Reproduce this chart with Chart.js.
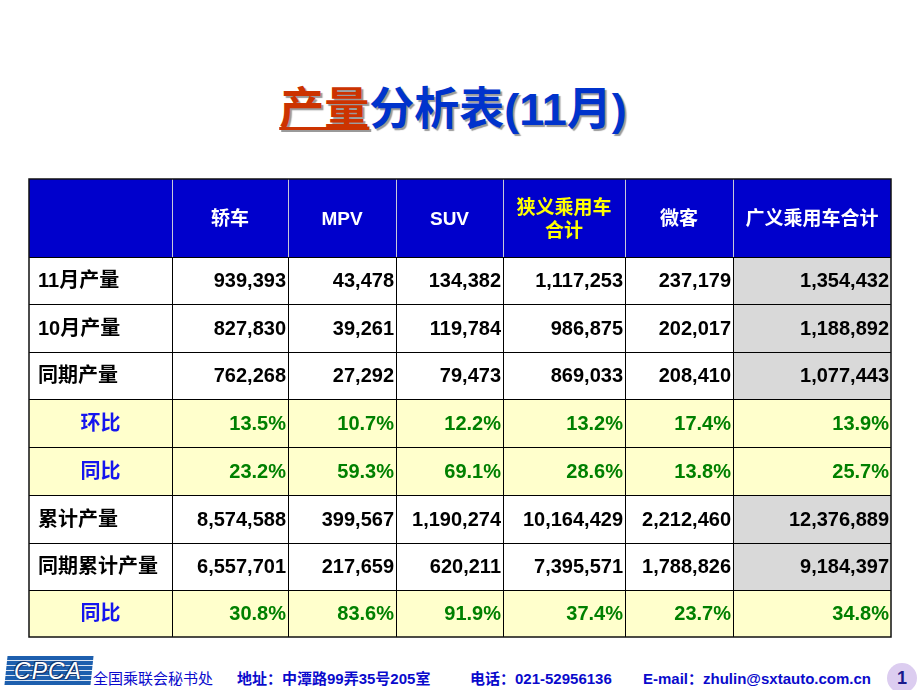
<!DOCTYPE html>
<html>
<head>
<meta charset="utf-8">
<script src="https://cdn.jsdelivr.net/npm/chart.js@4.4.1/dist/chart.umd.min.js"></script>
<style>
  body { margin: 0; width: 920px; height: 690px; background: #fff; position: relative; overflow: hidden;
         font-family: "Liberation Sans", Arial, "Noto Sans CJK SC", sans-serif; }
  #title { position: absolute; left: 0; width: 906px; top: 80px; text-align: center; font-size: 45px;
           font-weight: bold; color: #0033CC; text-shadow: 2px 2px 1px #9a9a9a; line-height: 60px; }
  #title .hl { color: #CC3300; text-decoration: underline; text-decoration-thickness: 3px; text-underline-offset: 2px; }
  #box { position: absolute; left: 28px; top: 178px; width: 865px; height: 461px; }
  .foot { position: absolute; top: 668px; font-size: 15px; color: #0a0acc; line-height: 22px; white-space: nowrap; }
  .b { font-weight: bold; }
  #logo { position: absolute; left: 6px; top: 656px; width: 86px; height: 29px; transform: skewX(-6deg);
          background: repeating-linear-gradient(to bottom, #1d5fae 0 4px, #dfe8f4 4px 5px); }
  #logotxt { position: absolute; left: 6px; top: 656px; width: 84px; text-align: center; font-size: 23px;
             font-style: italic; color: #fff; line-height: 30px; letter-spacing: 1px;
             text-shadow: 0 0 2px #13356e, 1px 1px 0 #13356e, -1px -1px 0 #13356e; }
  #page { position: absolute; left: 887px; top: 663px; width: 30px; height: 30px; border-radius: 50%;
          background: #dccdf0; text-align: center; line-height: 30px; font-weight: bold; font-size: 18px; color: #1a1a8c; }
</style>
</head>
<body>
<div id="title"><span class="hl">产量</span>分析表(11月)</div>
<div id="box"><canvas id="table" width="865" height="461"></canvas></div>

<div id="logo"></div>
<div id="logotxt">CPCA</div>
<div class="foot" style="left:93px">全国乘联会秘书处</div>
<div class="foot b" style="left:237px">地址：中潭路99弄35号205室</div>
<div class="foot b" style="left:470px">电话：021-52956136</div>
<div class="foot b" style="left:643px">E-mail：zhulin@sxtauto.com.cn</div>
<div id="page">1</div>

<script>
// --- Data ---
const columns = ["", "轿车", "MPV", "SUV", "狭义乘用车\n合计", "微客", "广义乘用车合计"];
const rowLabels = ["11月产量", "10月产量", "同期产量", "环比", "同比", "累计产量", "同期累计产量", "同比"];

const novOutput     = [939393, 43478, 134382, 1117253, 237179, 1354432];
const octOutput     = [827830, 39261, 119784, 986875, 202017, 1188892];
const lastYearNov   = [762268, 27292, 79473, 869033, 208410, 1077443];
const momPct        = [13.5, 10.7, 12.2, 13.2, 17.4, 13.9];
const yoyPct        = [23.2, 59.3, 69.1, 28.6, 13.8, 25.7];
const ytdOutput     = [8574588, 399567, 1190274, 10164429, 2212460, 12376889];
const ytdLastYear   = [6557701, 217659, 620211, 7395571, 1788826, 9184397];
const ytdYoyPct     = [30.8, 83.6, 91.9, 37.4, 23.7, 34.8];

const rowValues = [novOutput, octOutput, lastYearNov, momPct, yoyPct, ytdOutput, ytdLastYear, ytdYoyPct];
const pctRows = [3, 4, 7];

// --- Layout (scale units) ---
const colWidths = [143, 116, 108, 107, 122, 108, 158];
const rowHeights = [78, 47, 48, 47, 48, 48, 48, 47, 47];
const cum = arr => arr.reduce((a, v) => { a.push(a[a.length - 1] + v); return a; }, [0]);
const colEdges = cum(colWidths);
const rowEdges = cum(rowHeights);

const FONT = '"Liberation Sans", Arial, "Noto Sans CJK SC", sans-serif';

const tablePlugin = {
  id: "tableCells",
  afterDraw(chart) {
    const { ctx, scales: { x, y } } = chart;
    const X = i => x.getPixelForValue(colEdges[i]);
    const Y = i => y.getPixelForValue(rowEdges[i]);
    const nCols = columns.length;

    ctx.save();
    // header
    ctx.fillStyle = "#0000CC";
    ctx.fillRect(X(0), Y(0), X(nCols) - X(0), Y(1) - Y(0));

    // body backgrounds
    rowLabels.forEach((lab, r) => {
      const top = Y(r + 1), bot = Y(r + 2);
      const isPct = pctRows.includes(r);
      for (let c = 0; c < nCols; c++) {
        let bg = "#ffffff";
        if (isPct) bg = "#FFFFCC";
        else if (c === nCols - 1) bg = "#D9D9D9";
        ctx.fillStyle = bg;
        ctx.fillRect(X(c), top, X(c + 1) - X(c), bot - top);
      }
    });

    // header text
    ctx.textBaseline = "middle";
    ctx.textAlign = "center";
    columns.forEach((name, c) => {
      if (!name) return;
      const cx = (X(c) + X(c + 1)) / 2;
      const cy = (Y(0) + Y(1)) / 2 + 2;
      ctx.fillStyle = c === 4 ? "#FFFF00" : "#ffffff";
      ctx.font = "bold 19px " + FONT;
      const lines = name.split("\n");
      lines.forEach((ln, k) => {
        ctx.fillText(ln, cx, cy + (k - (lines.length - 1) / 2) * 23);
      });
    });

    // body text
    ctx.font = "bold 20px " + FONT;
    rowLabels.forEach((lab, r) => {
      const cy = (Y(r + 1) + Y(r + 2)) / 2 + 1;
      const isPct = pctRows.includes(r);
      if (isPct) {
        ctx.textAlign = "center";
        ctx.fillStyle = "#1515EE";
        ctx.fillText(lab, (X(0) + X(1)) / 2, cy);
      } else {
        ctx.textAlign = "left";
        ctx.fillStyle = "#000000";
        ctx.fillText(lab, X(0) + 9, cy);
      }
      ctx.textAlign = "right";
      rowValues[r].forEach((v, k) => {
        const txt = isPct ? v.toFixed(1) + "%" : v.toLocaleString("en-US");
        ctx.fillStyle = isPct ? "#008000" : "#000000";
        ctx.fillText(txt, X(k + 2) - 2, cy);
      });
    });

    // grid lines
    ctx.lineWidth = 1;
    ctx.strokeStyle = "#000000";
    for (let r = 1; r < rowEdges.length - 1; r++) {
      ctx.beginPath();
      ctx.moveTo(X(0), Math.round(Y(r)) + 0.5);
      ctx.lineTo(X(nCols), Math.round(Y(r)) + 0.5);
      ctx.stroke();
    }
    for (let c = 1; c < nCols; c++) {
      const px = Math.round(X(c)) + 0.5;
      ctx.strokeStyle = "#c8c8d8";
      ctx.beginPath();
      ctx.moveTo(px, Y(0));
      ctx.lineTo(px, Y(1));
      ctx.stroke();
      ctx.strokeStyle = "#000000";
      ctx.beginPath();
      ctx.moveTo(px, Y(1));
      ctx.lineTo(px, Y(rowEdges.length - 1));
      ctx.stroke();
    }
    // outer border
    ctx.lineWidth = 1.5;
    ctx.strokeStyle = "#111111";
    ctx.strokeRect(X(0), Y(0), X(nCols) - X(0), Y(rowEdges.length - 1) - Y(0));
    ctx.restore();
  }
};

new Chart(document.getElementById("table"), {
  type: "scatter",
  data: { labels: rowLabels, datasets: [{ data: [] }] },
  options: {
    responsive: false,
    animation: false,
    layout: { padding: { left: 1, top: 1, right: 2, bottom: 2 } },
    plugins: { legend: { display: false }, tooltip: { enabled: false } },
    scales: {
      x: { type: "linear", display: false, offset: false, min: 0, max: colEdges[colEdges.length - 1] },
      y: { type: "linear", display: false, offset: false, reverse: true, min: 0, max: rowEdges[rowEdges.length - 1] }
    }
  },
  plugins: [tablePlugin]
});
</script>
</body>
</html>
